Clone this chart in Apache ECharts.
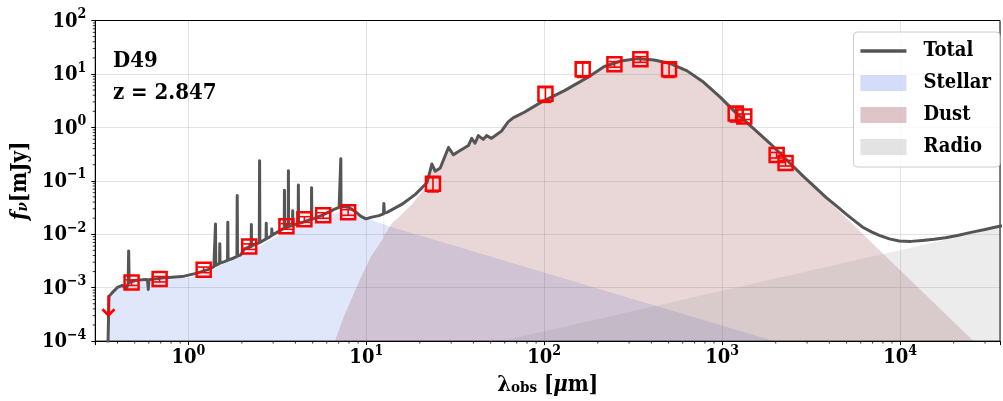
<!DOCTYPE html>
<html>
<head>
<meta charset="utf-8">
<script src="https://cdn.jsdelivr.net/npm/echarts@6/dist/echarts.min.js"></script>
<style>
html, body { margin: 0; padding: 0; background: #fff; }
#chart { width: 1003px; height: 401px; }
</style>
</head>
<body>
<div id="chart"></div>
<script>
// SED of D49: photometry, upper limit and best-fit model components (λ in μm, fν in mJy)
const SERIF = "'DejaVu Serif Condensed', 'DejaVu Serif', serif";

const XMIN = 0.3, XMAX = 36400;
const YMIN = 1e-4, YMAX = 100;

// Observed photometry
const photLambda = [0.48, 0.69, 1.22, 2.2, 3.56, 4.49, 5.73, 7.91, 23.7, 101.6, 164.5, 248, 347, 503, 1191, 1331, 2023, 2270];
const photFlux   = [1.25e-3, 1.45e-3, 2.17e-3, 5.9e-3, 0.0141, 0.019, 0.0226, 0.0257, 0.088, 4.24, 12.3, 15.2, 18.8, 12.3, 1.81, 1.59, 0.303, 0.215];
const photErr    = [1.5e-4, 1.7e-4, 2.6e-4, 7e-4, 1.7e-3, 2.3e-3, 2.7e-3, 3.1e-3, 0.026, 1.3, 3.7, 1.8, 2.3, 3.7, 0.55, 0.19, 0.036, 0.026];

// Upper limit
const limLambda = [0.356];
const limFlux   = [7.2e-4];

// Total model
const totalLambda = [0.3536, 0.3582, 0.3748, 0.3995, 0.4262, 0.4487, 0.4592, 0.4622, 0.4652, 0.5037, 0.5729, 0.59, 0.5955, 0.601, 0.7122, 0.9222, 1.09, 1.288, 1.392, 1.418, 1.422, 1.426, 1.456, 1.498, 1.503, 1.508, 1.582, 1.661, 1.667, 1.673, 1.754, 1.876, 1.883, 1.89, 1.97, 2.074, 2.255, 2.261, 2.267, 2.358, 2.505, 2.515, 2.525, 2.58, 2.735, 2.742, 2.749, 2.86, 2.94, 2.946, 2.952, 3.171, 3.46, 3.469, 3.478, 3.559, 3.643, 3.652, 3.661, 3.747, 3.85, 3.86, 3.87, 3.998, 4.144, 4.154, 4.164, 4.317, 4.785, 4.917, 4.929, 4.941, 5.104, 5.802, 6.598, 7.04, 7.176, 7.194, 7.212, 7.411, 8.006, 8.649, 9.342, 9.961, 10.62, 11.78, 12.5, 12.56, 12.64, 13.1, 15.89, 18.88, 21.92, 23.37, 24.42, 26.04, 28.97, 30.9, 32.96, 37.48, 39.11, 40.86, 42.63, 45.45, 47.42, 50.57, 57.51, 62.69, 66.86, 77.7, 96.21, 130, 175.4, 217.5, 269.2, 333.9, 413.9, 512.3, 635.2, 787.3, 974.5, 1208, 1497, 1854, 2299, 2849, 3300, 3845, 4400, 4973, 5550, 6166, 6900, 7634, 8700, 9872, 11500, 13340, 15500, 18000, 21300, 25390, 30000, 35600, 37000];
const totalFlux = [8.2e-5, 6.87e-4, 8.15e-4, 1.01e-3, 1.1e-3, 9.66e-4, 1.2e-3, 4.88e-3, 1.25e-3, 1.36e-3, 1.42e-3, 1.4e-3, 9.27e-4, 1.4e-3, 1.51e-3, 1.61e-3, 1.83e-3, 2.17e-3, 2.47e-3, 2.55e-3, 0.01556, 2.6e-3, 2.69e-3, 2.85e-3, 6.66e-3, 2.88e-3, 3.05e-3, 3.25e-3, 0.01676, 3.3e-3, 3.47e-3, 3.85e-3, 0.0528, 3.9e-3, 4.11e-3, 5.37e-3, 5.9e-3, 0.01517, 6.0e-3, 6.47e-3, 6.9e-3, 0.237, 7.0e-3, 7.14e-3, 8.2e-3, 0.01603, 8.3e-3, 8.83e-3, 9.5e-3, 0.01259, 9.6e-3, 0.01094, 0.013, 0.0662, 0.0131, 0.01352, 0.0138, 0.155, 0.0139, 0.01413, 0.0147, 0.0275, 0.0148, 0.01538, 0.0158, 0.0834, 0.0159, 0.01637, 0.01862, 0.019, 0.0743, 0.0191, 0.01986, 0.02355, 0.0291, 0.0317, 0.0322, 0.258, 0.0324, 0.033, 0.0317, 0.0267, 0.02163, 0.01941, 0.0207, 0.0223, 0.024, 0.0376, 0.025, 0.02565, 0.0365, 0.0558, 0.0918, 0.206, 0.151, 0.174, 0.42, 0.306, 0.354, 0.457, 0.624, 0.504, 0.7, 0.597, 0.7, 0.624, 0.851, 1.27, 1.504, 1.942, 2.972, 4.87, 8.61, 13.76, 17.47, 19.35, 18.23, 15.63, 11.41, 6.97, 3.68, 1.807, 0.955, 0.504, 0.248, 0.1222, 0.078, 0.0485, 0.0335, 0.0238, 0.0178, 0.01352, 0.0111, 9.51e-3, 8.2e-3, 7.45e-3, 7.35e-3, 7.67e-3, 8.05e-3, 8.57e-3, 9.6e-3, 0.01094, 0.0123, 0.01393, 0.0143];

// Stellar component
const stellarLambda = [0.3536, 0.3582, 0.3895, 0.4429, 0.5037, 0.611, 0.79, 1.022, 1.24, 1.41, 1.71, 2.074, 2.515, 3.171, 3.796, 4.487, 5.303, 6.352, 7.506, 8.538, 9.834, 11.48, 13.39, 2614];
const stellarFlux   = [8.2e-5, 6.87e-4, 9.27e-4, 1.1e-3, 1.22e-3, 1.3e-3, 1.42e-3, 1.55e-3, 1.83e-3, 2.27e-3, 3.18e-3, 4.48e-3, 6.03e-3, 9.23e-3, 0.01241, 0.01538, 0.01825, 0.023, 0.0267, 0.0251, 0.0203, 0.0171, 0.01413, 7.5e-5];

// Dust component
const dustLambda = [6.516, 7.506, 9.103, 10.62, 12.48, 12.56, 12.64, 13.92, 15.89, 18.07, 21.92, 23.37, 24.42, 26.04, 28.97, 30.9, 32.96, 37.48, 39.11, 40.86, 42.63, 45.45, 47.42, 50.57, 57.51, 62.69, 66.86, 77.7, 96.21, 130, 175.4, 217.5, 269.2, 333.9, 413.9, 512.3, 635.2, 787.3, 974.5, 1208, 1497, 1854, 2299, 2849, 3845, 28240];
const dustFlux   = [8.2e-5, 2.94e-4, 1.3e-3, 3.78e-3, 8.47e-3, 0.036, 9.62e-3, 0.01603, 0.0238, 0.0365, 0.0798, 0.19, 0.145, 0.168, 0.41, 0.3, 0.348, 0.45, 0.615, 0.497, 0.69, 0.59, 0.69, 0.615, 0.84, 1.26, 1.49, 1.93, 2.96, 4.86, 8.6, 13.75, 17.46, 19.34, 18.22, 15.62, 11.4, 6.96, 3.67, 1.8, 0.95, 0.5, 0.245, 0.119, 0.046, 7.5e-5];

// Radio component
const radioLambda = [48.5, 35600, 37000];
const radioFlux   = [8.77e-5, 0.01324, 0.0136];

const pairs = (xs, ys) => xs.map((x, i) => [x, ys[i]]);

// log-spaced minor tick positions
const xMinor = [], yMinor = [];
for (let n = -1; n <= 4; n++) for (let k = 2; k <= 9; k++) {
  const v = k * Math.pow(10, n);
  if (v > XMIN && v < XMAX) xMinor.push([v, YMIN]);
}
for (let n = -4; n <= 1; n++) for (let k = 2; k <= 9; k++) {
  const v = k * Math.pow(10, n);
  if (v > YMIN && v < YMAX) yMinor.push([XMIN, v]);
}

function powLabel(v) {
  const l = Math.log10(v), e = Math.round(l);
  if (Math.abs(l - e) > 1e-6) return '';
  return '{b|10}{s|' + (e < 0 ? '\u2212' : '') + Math.abs(e) + '}';
}

const labelRich = {
  b: { fontFamily: SERIF, fontWeight: 'bold', fontSize: 20, lineHeight: 22, verticalAlign: 'bottom', color: '#000' },
  s: { fontFamily: SERIF, fontWeight: 'bold', fontSize: 14, lineHeight: 14, padding: [0, 0, 10, 0], verticalAlign: 'bottom', color: '#000' }
};

const RED = '#ff0000';
const LINE_GREY = '#555555';
const STELLAR = 'rgba(65,105,225,0.23)';
const DUST = 'rgba(140,40,50,0.27)';
const RADIO = 'rgba(128,128,128,0.22)';

// horizontal bar icon for the model line in the legend (corner stubs fix the 46x16 box)
const LINE_ICON = 'path://M0,0L0.01,0M0,16L0.01,16M46,0L46.01,0M0,6.2L46,6.2L46,9.8L0,9.8Z';

const chart = echarts.init(document.getElementById('chart'), null, { renderer: 'canvas' });

chart.setOption({
  animation: false,
  backgroundColor: '#fff',
  grid: { left: 95, top: 20.5, width: 910, height: 324.8, containLabel: false, show: true, borderColor: '#000', borderWidth: 1, backgroundColor: 'transparent' },
  xAxis: {
    type: 'log', logBase: 10, min: XMIN, max: XMAX, splitNumber: 5,
    name: '{b|λ}{sub|obs}{n| [}{it|μ}{n|m]}', nameLocation: 'middle', nameGap: 29,
    nameTextStyle: { rich: {
      b: { fontFamily: SERIF, fontWeight: 'bold', fontSize: 22, lineHeight: 24, verticalAlign: 'bottom', color: '#000' },
      sub: { fontFamily: SERIF, fontWeight: 'bold', fontSize: 15, lineHeight: 15, padding: [8, 0, 0, 0], verticalAlign: 'bottom', color: '#000' },
      n: { fontFamily: SERIF, fontWeight: 'bold', fontSize: 22, lineHeight: 24, verticalAlign: 'bottom', color: '#000' },
      it: { fontFamily: SERIF, fontWeight: 'bold', fontStyle: 'italic', fontSize: 22, lineHeight: 24, verticalAlign: 'bottom', color: '#000' }
    } },
    axisLine: { show: true, lineStyle: { color: '#000', width: 1 } },
    axisTick: { show: true, inside: false, length: 4, lineStyle: { color: '#000', width: 1 } },
    minorTick: { show: false },
    splitLine: { show: true, lineStyle: { color: 'rgba(0,0,0,0.11)', width: 1 } },
    axisLabel: { formatter: powLabel, margin: 5, rich: labelRich }
  },
  yAxis: {
    type: 'log', logBase: 10, min: YMIN, max: YMAX, splitNumber: 6,
    name: '{it|f}{sub|ν}{n|[mJy]}', nameLocation: 'middle', nameGap: 58,
    nameTextStyle: { rich: {
      it: { fontFamily: SERIF, fontWeight: 'bold', fontStyle: 'italic', fontSize: 22, lineHeight: 24, verticalAlign: 'bottom', color: '#000' },
      sub: { fontFamily: SERIF, fontWeight: 'bold', fontStyle: 'italic', fontSize: 15, lineHeight: 15, padding: [8, 0, 0, 0], verticalAlign: 'bottom', color: '#000' },
      n: { fontFamily: SERIF, fontWeight: 'bold', fontSize: 22, lineHeight: 24, verticalAlign: 'bottom', color: '#000' }
    } },
    axisLine: { show: true, lineStyle: { color: '#000', width: 1 } },
    axisTick: { show: true, inside: false, length: 4, lineStyle: { color: '#000', width: 1 } },
    minorTick: { show: false },
    splitLine: { show: true, lineStyle: { color: 'rgba(0,0,0,0.11)', width: 1 } },
    axisLabel: { formatter: powLabel, margin: 9, rich: labelRich }
  },
  legend: {
    orient: 'vertical', right: 3, top: 32,
    padding: [9, 9, 10, 7], itemWidth: 46, itemHeight: 16, itemGap: 12,
    backgroundColor: 'rgba(255,255,255,0.8)', borderColor: '#cccccc', borderWidth: 1, borderRadius: 4,
    itemStyle: { borderWidth: 0 },
    textStyle: { fontFamily: SERIF, fontWeight: 'bold', fontSize: 20, lineHeight: 16, color: '#000', padding: [0, 0, 0, 12] },
    selectedMode: false,
    data: [
      { name: 'Total', icon: LINE_ICON },
      { name: 'Stellar', icon: 'rect' },
      { name: 'Dust', icon: 'rect' },
      { name: 'Radio', icon: 'rect' }
    ]
  },
  graphic: [
    { type: 'text', left: 113, top: 50, z: 20, style: { text: 'D49', font: "bold 22px " + SERIF, fill: '#000' } },
    { type: 'text', left: 113, top: 82, z: 20, style: { text: 'z = 2.847', font: "bold 22px " + SERIF, fill: '#000' } }
  ],
  series: [
    {
      name: 'Stellar', type: 'line', data: pairs(stellarLambda, stellarFlux), showSymbol: false, symbol: 'none',
      color: STELLAR, itemStyle: { color: STELLAR, borderWidth: 0 },
      lineStyle: { width: 0 }, areaStyle: { color: STELLAR, origin: 'start' }, z: 1, silent: true
    },
    {
      name: 'Dust', type: 'line', data: pairs(dustLambda, dustFlux), showSymbol: false, symbol: 'none',
      color: DUST, itemStyle: { color: DUST, borderWidth: 0 },
      lineStyle: { width: 0 }, areaStyle: { color: DUST, origin: 'start' }, z: 2, silent: true
    },
    {
      name: 'Radio', type: 'line', data: pairs(radioLambda, radioFlux), showSymbol: false, symbol: 'none',
      color: RADIO, itemStyle: { color: RADIO, borderWidth: 0 },
      lineStyle: { width: 0 }, areaStyle: { color: RADIO, origin: 'start' }, z: 3, silent: true
    },
    {
      name: 'Total', type: 'line', data: pairs(totalLambda, totalFlux), showSymbol: false, symbol: 'none',
      color: LINE_GREY, itemStyle: { color: LINE_GREY, borderWidth: 0 },
      lineStyle: { color: LINE_GREY, width: 3, join: 'round', cap: 'round' }, z: 5, silent: true
    },
    {
      name: 'Photometry', type: 'custom', z: 8, silent: true,
      data: photLambda.map((l, i) => [l, photFlux[i], photErr[i]]),
      renderItem: (params, api) => {
        const lam = api.value(0), f = api.value(1), e = api.value(2);
        const c = api.coord([lam, f]);
        const top = api.coord([lam, f + e])[1], bot = api.coord([lam, f - e])[1];
        const half = 7, cap = 6;
        const st = { stroke: RED, lineWidth: 1.6, fill: null };
        return { type: 'group', children: [
          { type: 'line', shape: { x1: c[0], y1: top, x2: c[0], y2: bot }, style: st },
          { type: 'line', shape: { x1: c[0] - cap, y1: top, x2: c[0] + cap, y2: top }, style: st },
          { type: 'line', shape: { x1: c[0] - cap, y1: bot, x2: c[0] + cap, y2: bot }, style: st },
          { type: 'rect', shape: { x: c[0] - half, y: c[1] - half, width: 2 * half, height: 2 * half }, style: { stroke: RED, lineWidth: 2.5, fill: null } }
        ] };
      }
    },
    {
      name: 'Upper limit', type: 'custom', z: 8, silent: true,
      data: pairs(limLambda, limFlux),
      renderItem: (params, api) => {
        const c = api.coord([api.value(0), api.value(1)]);
        const st = { stroke: RED, lineWidth: 2.2, fill: null };
        return { type: 'group', children: [
          { type: 'line', shape: { x1: c[0], y1: c[1], x2: c[0], y2: c[1] + 20 }, style: st },
          { type: 'polyline', shape: { points: [[c[0] - 6, c[1] + 14], [c[0], c[1] + 20], [c[0] + 6, c[1] + 14]] }, style: { stroke: RED, lineWidth: 2.6, fill: null } }
        ] };
      }
    },
    {
      name: 'xMinorTicks', type: 'custom', z: 6, silent: true, clip: false, data: xMinor,
      renderItem: (params, api) => {
        const p = api.coord([api.value(0), YMIN]);
        return { type: 'line', shape: { x1: p[0], y1: p[1], x2: p[0], y2: p[1] + 2.5 }, style: { stroke: '#000', lineWidth: 0.8 } };
      }
    },
    {
      name: 'yMinorTicks', type: 'custom', z: 6, silent: true, clip: false, data: yMinor,
      renderItem: (params, api) => {
        const p = api.coord([XMIN, api.value(1)]);
        return { type: 'line', shape: { x1: p[0], y1: p[1], x2: p[0] - 2.5, y2: p[1] }, style: { stroke: '#000', lineWidth: 0.8 } };
      }
    }
  ]
});
</script>
</body>
</html>
